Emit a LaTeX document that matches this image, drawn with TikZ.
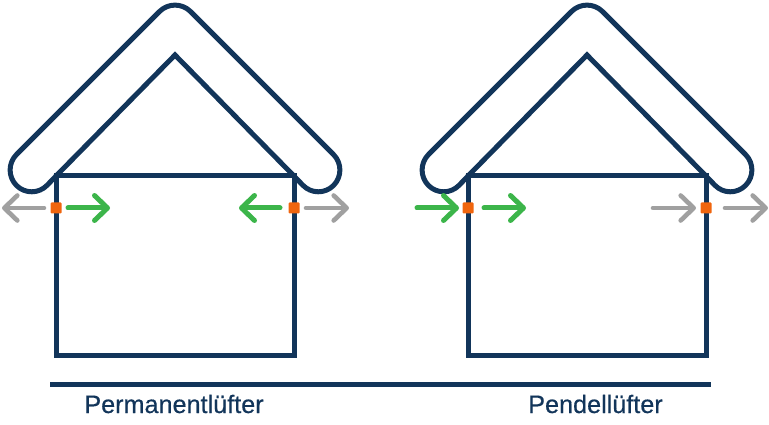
\documentclass[tikz,border=0pt]{standalone}
\usepackage{fontspec}
\setmainfont{Liberation Sans}
\newfontfamily\captionfont[FakeBold=0.4]{Liberation Sans}
\usetikzlibrary{arrows.meta}
\definecolor{navy}{HTML}{12355A}
\definecolor{airgreen}{HTML}{3CB54A}
\definecolor{airgrey}{HTML}{A0A0A0}
\definecolor{valve}{HTML}{F0650E}
\tikzset{
  wall/.style={draw=navy,line width=5pt,line join=miter},
  roof/.style={draw=navy,line width=5pt,rounded corners=22pt},
  air/.style={line width=5pt,line cap=round,-{Straight Barb[length=13pt,width=25pt,round]}},
  inflow/.style={air,color=airgreen},
  outflow/.style={air,color=airgrey,line width=4.6pt},
  valvebox/.style={fill=valve,draw=none,rounded corners=1pt,minimum size=11pt,inner sep=0pt},
  caption/.style={text=navy,font=\captionfont\fontsize{25.2}{30}\selectfont,inner sep=0pt}
}
\begin{document}
\begin{tikzpicture}[x=1pt,y=-1pt]
  \useasboundingbox (0,0) rectangle (769,425);

  \foreach \x in {0,412} {
    \draw[wall] (\x+56,176) rectangle (\x+294,355);
    \draw[wall] (\x+56,176)--(\x+175,55)--(\x+294,176);
    \draw[roof] (\x+56,176)--(\x+32,201)--(\x+1,170)--(\x+175,-4)--(\x+349,170)--(\x+318,201)--(\x+294,176);
    \node[valvebox] at (\x+56,208) {};
    \node[valvebox] at (\x+294,208) {};
  }

  \draw[outflow] (44,208)--(2,208);
  \draw[inflow] (68,208)--(110,208);
  \draw[inflow] (280,208)--(239,208);
  \draw[outflow] (306,208)--(349,208);

  \draw[inflow] (417,208)--(459,208);
  \draw[inflow] (484,208)--(526,208);
  \draw[outflow] (653,208)--(696,208);
  \draw[outflow] (725,208)--(768,208);

  \draw[navy,line width=5pt] (50,384)--(711,384);

  \node[caption] (permanent) at (174,404) {Permanentlüfter};
  \node[caption] (pendel) at (595.5,404) {Pendellüfter};
\end{tikzpicture}
\end{document}
